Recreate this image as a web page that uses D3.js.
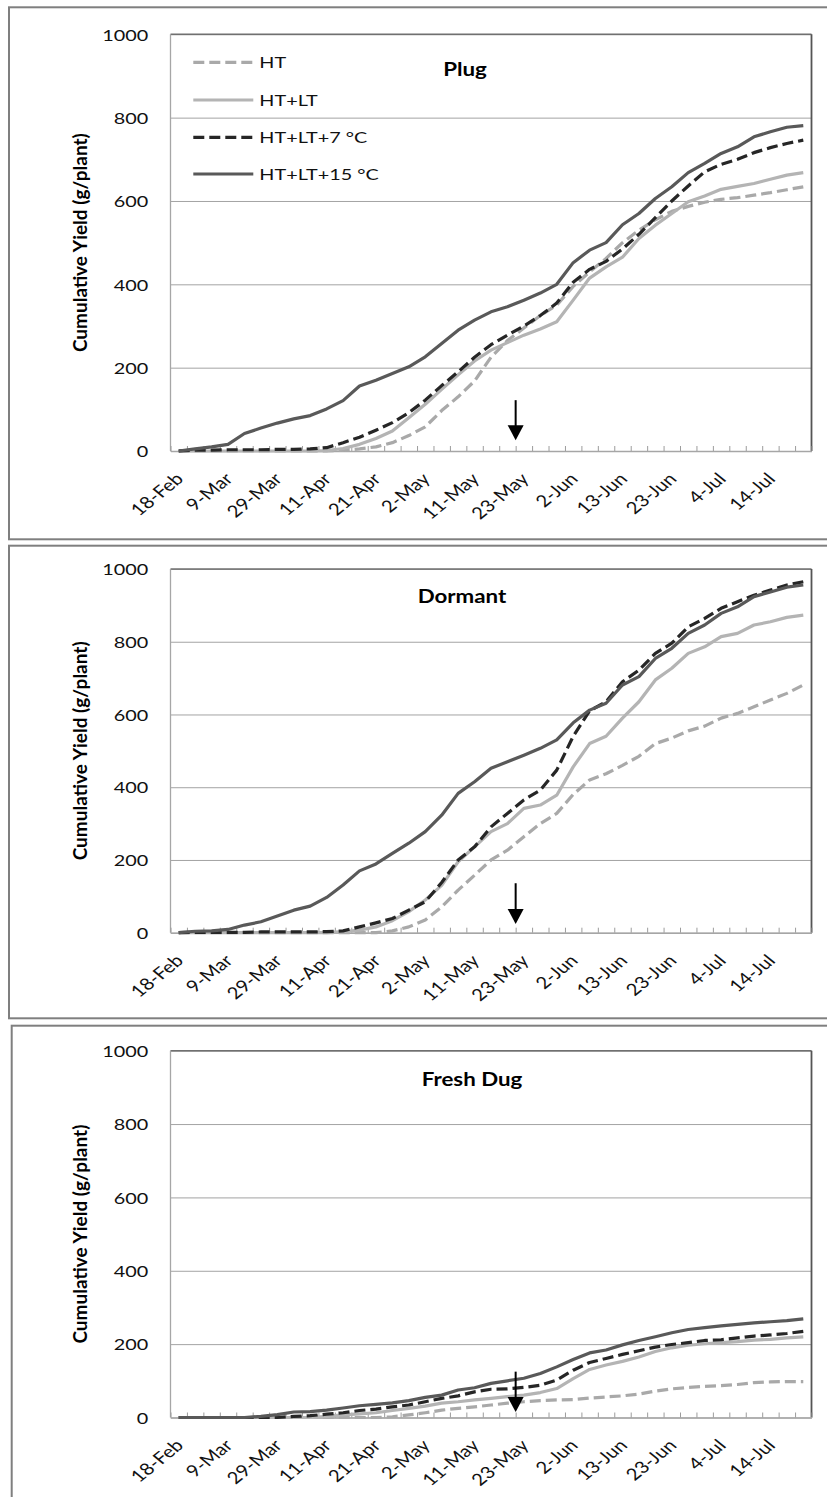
<!DOCTYPE html>
<html>
<head>
<meta charset="utf-8">
<script src="https://cdn.jsdelivr.net/npm/d3@7"></script>
<style>
  html, body { margin: 0; padding: 0; background: #fff; }
  svg { display: block; }
</style>
</head>
<body>
<script>
// ---- Data -------------------------------------------------------------
// 39 harvests from 18-Feb to late July; every third harvest is labelled.
const harvestCount = 39;
const tickEvery = 3;
const tickLabels = ["18-Feb", "9-Mar", "29-Mar", "11-Apr", "21-Apr", "2-May", "11-May",
                    "23-May", "2-Jun", "13-Jun", "23-Jun", "4-Jul", "14-Jul"];
const yTicks = [0, 200, 400, 600, 800, 1000];
const seriesNames = ["HT", "HT+LT", "HT+LT+7 °C", "HT+LT+15 °C"];
const panelTitles = ["Plug", "Dormant", "Fresh Dug"];

// Cumulative yield (g/plant) per harvest
const plugHT     = [0,0,0,0,0,0,0,0,0,0,2,5,10,20,37,58,97,130,168,225,265,295,325,350,395,430,462,500,530,555,575,587,597,604,608,614,620,627,634];
const plugHTLT   = [0,0,0,0,0,0,0,0,0,1,6,16,30,48,80,112,148,183,216,242,260,278,293,310,362,415,442,465,510,542,570,598,612,628,635,642,652,662,668];
const plug7      = [0,2,2,3,3,3,4,4,5,8,20,33,50,68,92,122,157,190,225,255,278,300,325,355,405,436,455,485,520,560,600,636,670,688,700,716,728,738,746];
const plug15     = [0,5,10,16,42,55,67,77,85,101,121,156,170,186,202,226,258,290,314,334,346,362,379,400,452,482,500,543,570,606,634,668,690,714,730,754,766,777,781];

const dormantHT   = [0,0,0,0,0,0,0,0,0,0,0,0,0,5,16,35,71,117,158,200,227,264,300,328,380,420,437,460,485,520,535,555,568,590,603,621,640,658,681];
const dormantHTLT = [0,0,0,0,0,0,0,0,0,0,3,7,16,33,58,90,130,195,236,278,300,342,351,378,456,520,540,590,635,695,727,768,786,814,823,846,855,867,873];
const dormant7    = [0,1,1,1,1,2,2,2,2,3,5,16,27,39,62,85,138,200,236,291,328,365,392,447,540,610,635,690,722,768,796,841,864,892,910,928,942,956,965];
const dormant15   = [0,4,5,9,21,30,46,62,73,97,131,170,189,218,246,278,323,383,415,452,470,488,507,530,577,612,631,681,704,754,782,823,846,878,896,924,937,950,956];

const freshHT   = [0,0,0,0,0,0,0,0,0,0,0,0,0,2,7,13,20,25,29,34,39,43,46,48,49,53,56,59,64,72,78,82,85,87,90,95,97,98,98];
const freshHTLT = [0,0,0,0,0,0,0,0,0,3,7,10,13,19,25,31,39,43,48,52,57,61,68,79,106,131,143,153,165,180,190,197,201,204,207,211,213,217,220];
const fresh7    = [0,0,0,0,0,0,0,3,5,9,13,19,23,29,34,43,52,59,70,77,78,82,88,102,129,150,161,172,182,192,199,204,210,212,217,222,225,229,235];
const fresh15   = [0,0,0,0,0,3,8,15,16,20,26,32,36,40,46,55,61,75,81,93,100,107,120,138,158,176,184,198,210,220,231,240,245,250,254,258,261,264,269];

// Arrow marking the transfer date (between the 20th and 21st harvest), in yield units
const markerIndex = 20.5;
const arrowTop = [122, 136, 125];
const arrowTip = [26, 24, 15];

const panelSeries = [
  [plugHT, plugHTLT, plug7, plug15],
  [dormantHT, dormantHTLT, dormant7, dormant15],
  [freshHT, freshHTLT, fresh7, fresh15]
];

// ---- Styles & layout ---------------------------------------------------
const seriesStyle = [
  { color: "#a9a9a9", dash: "11,5" },
  { color: "#b4b4b4", dash: null },
  { color: "#262626", dash: "11,5" },
  { color: "#595959", dash: null }
];

const SX = 1.24;                 // horizontal widening of the lettering
const FONT = "Lato, 'Open Sans', sans-serif";
const plotLeft = 170.5, plotRight = 811.5;

const layout = [
  { frame: { x: 9,    y: 7.3,    bottom: 539.3 }, plot: { top: 34.3,   bottom: 451 },    title: { x: 465, y: 76 },     legend: true },
  { frame: { x: 9,    y: 545.7,  bottom: 1018.3 }, plot: { top: 569,   bottom: 932.7 },  title: { x: 462, y: 602.7 },  legend: false },
  { frame: { x: 11.7, y: 1025.7, bottom: 1512 },   plot: { top: 1050.7, bottom: 1417.5 }, title: { x: 472, y: 1086 },  legend: false }
];
const legendRows = [62.3, 100, 137.3, 174];

const svg = d3.select("body").append("svg")
  .attr("width", 827).attr("height", 1497)
  .style("background", "#fff");

const x = d3.scaleLinear().domain([-0.5, harvestCount - 0.5]).range([plotLeft, plotRight]);

panelSeries.forEach((series, k) => {
  const L = layout[k];
  const g = svg.append("g");
  const y = d3.scaleLinear().domain([0, 1000]).range([L.plot.bottom, L.plot.top]);

  // outer chart frame (runs past the right and bottom edges)
  g.append("rect")
    .attr("x", L.frame.x).attr("y", L.frame.y)
    .attr("width", 840).attr("height", L.frame.bottom - L.frame.y)
    .attr("fill", "#fff").attr("stroke", "#7f7f7f").attr("stroke-width", 2);

  // value axis: gridlines + labels
  const yAxis = g.append("g")
    .attr("transform", `translate(${plotLeft},0)`)
    .call(d3.axisLeft(y).tickValues(yTicks).tickFormat(d3.format("d"))
      .tickSize(-(plotRight - plotLeft)).tickPadding(22.2));
  yAxis.select(".domain").remove();
  yAxis.selectAll(".tick line").attr("stroke", "#a3a3a3").attr("stroke-width", 1);
  yAxis.selectAll(".tick text")
    .attr("fill", "#111").attr("font-family", FONT).attr("font-size", 16)
    .attr("dy", "0.36em")
    .attr("transform", function () {
      const tx = +this.getAttribute("x");
      return `translate(${tx},0) scale(${SX},1)`;
    })
    .attr("x", 0);

  // plot area border (top and right)
  g.append("line")
    .attr("x1", plotLeft).attr("x2", plotRight).attr("y1", L.plot.top).attr("y2", L.plot.top)
    .attr("stroke", "#707070").attr("stroke-width", 1.4);
  g.append("line")
    .attr("x1", plotRight).attr("x2", plotRight).attr("y1", L.plot.top).attr("y2", L.plot.bottom)
    .attr("stroke", "#555").attr("stroke-width", 1.8);

  // vertical axis line
  g.append("line")
    .attr("x1", plotLeft).attr("x2", plotLeft).attr("y1", L.plot.top).attr("y2", L.plot.bottom)
    .attr("stroke", "#a6a6a6").attr("stroke-width", 1.3);

  // category axis with inside tick marks between harvests
  const xAxis = g.append("g")
    .attr("transform", `translate(0,${L.plot.bottom})`)
    .call(d3.axisBottom(x)
      .tickValues(d3.range(harvestCount + 1).map(i => i - 0.5))
      .tickSize(-5).tickSizeOuter(0).tickFormat(""));
  xAxis.select(".domain").attr("stroke", "#a6a6a6").attr("stroke-width", 1.5);
  xAxis.selectAll(".tick line").attr("stroke", "#9c9c9c").attr("stroke-width", 1);

  // rotated harvest date labels
  g.append("g").selectAll("text")
    .data(tickLabels)
    .join("text")
    .attr("transform", (d, i) =>
      `translate(${x(i * tickEvery) + 6},${L.plot.bottom + 29}) scale(${SX},1) rotate(-45)`)
    .attr("text-anchor", "end")
    .attr("font-family", FONT).attr("font-size", 16.5).attr("fill", "#111")
    .text(d => d);

  // series lines
  const line = d3.line().x((d, i) => x(i)).y(d => y(d));
  g.append("g").selectAll("path")
    .data(series)
    .join("path")
    .attr("d", d => line(d))
    .attr("fill", "none")
    .attr("stroke", (d, i) => seriesStyle[i].color)
    .attr("stroke-width", 3.2)
    .attr("stroke-linejoin", "round")
    .attr("stroke-dasharray", (d, i) => seriesStyle[i].dash);

  // transfer arrow
  const ax = x(markerIndex);
  const yTip = y(arrowTip[k]);
  const yTop = y(arrowTop[k]);
  const headH = 15, headW = 8;
  g.append("line")
    .attr("x1", ax).attr("x2", ax).attr("y1", yTop).attr("y2", yTip - headH + 1)
    .attr("stroke", "#000").attr("stroke-width", 2);
  g.append("path")
    .attr("d", `M${ax - headW},${yTip - headH} L${ax + headW},${yTip - headH} L${ax},${yTip} Z`)
    .attr("fill", "#000");

  // panel title
  g.append("text")
    .attr("transform", `translate(${L.title.x},${L.title.y}) scale(${SX},1)`)
    .attr("text-anchor", "middle")
    .attr("font-family", FONT).attr("font-weight", 700).attr("font-size", 18)
    .attr("fill", "#000")
    .text(panelTitles[k]);

  // value axis title
  g.append("text")
    .attr("transform", `translate(87,${(L.plot.top + L.plot.bottom) / 2}) rotate(-90)`)
    .attr("text-anchor", "middle")
    .attr("font-family", FONT).attr("font-weight", 700).attr("font-size", 19)
    .attr("fill", "#000")
    .text("Cumulative Yield (g/plant)");

  // legend
  if (L.legend) {
    const lg = g.append("g");
    seriesNames.forEach((name, i) => {
      lg.append("line")
        .attr("x1", 193.3).attr("x2", 253.3)
        .attr("y1", legendRows[i]).attr("y2", legendRows[i])
        .attr("stroke", seriesStyle[i].color).attr("stroke-width", 3.2)
        .attr("stroke-dasharray", seriesStyle[i].dash);
      lg.append("text")
        .attr("transform", `translate(259.3,${legendRows[i] + 5.8}) scale(${SX},1)`)
        .attr("font-family", FONT).attr("font-size", 16).attr("fill", "#111")
        .text(name);
    });
  }
});
</script>
</body>
</html>
